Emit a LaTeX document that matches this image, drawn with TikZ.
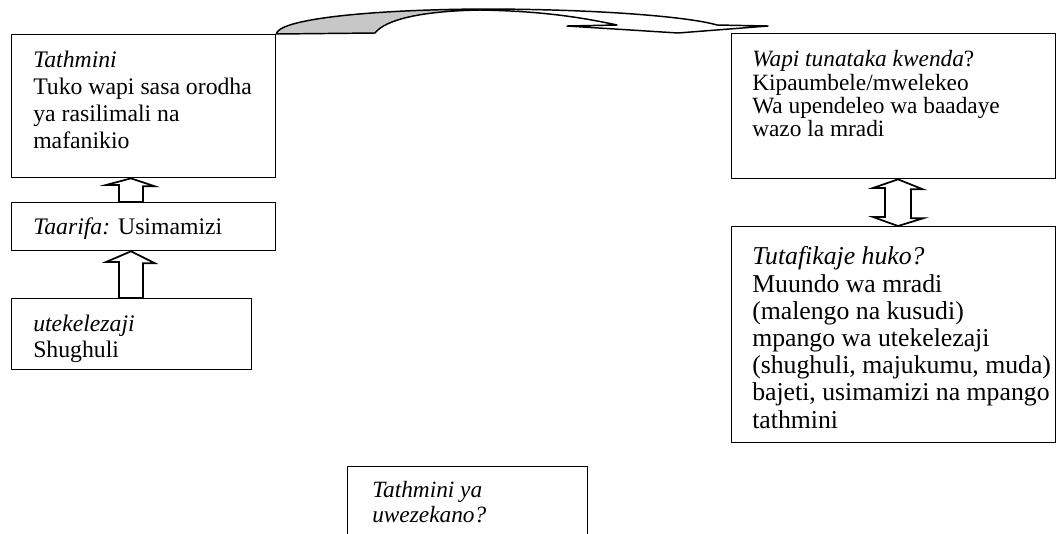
\documentclass[tikz,border=0pt]{standalone}
\usepackage{fontspec}
\setmainfont{Liberation Serif}
\usetikzlibrary{calc}
\begin{document}
\begin{tikzpicture}[x=0.75pt,y=-0.75pt,
    box/.style={draw, line width=1pt, inner sep=0pt, anchor=north west},
    boxsize/.style 2 args={minimum width=#1*0.75pt, minimum height=#2*0.75pt},
    txt/.style 2 args={anchor=north west, inner sep=0pt, align=left,
                font=\fontsize{#1pt}{#2pt}\selectfont},
    blk/.style={draw, line width=1.3pt, fill=white, line join=miter}]
    \useasboundingbox (0,0) rectangle (1057,533);
    \clip (0,0) rectangle (1057,533);

    % left column
    \node[box, boxsize={264}{143}] (tath) at (11,34) {};
    \node[box, boxsize={264}{48}] (taar) at (11,202) {};
    \node[box, boxsize={240}{71}] (utek) at (11,298) {};
    \node[txt={17.8}{20.25}] (tathtxt) at ($(tath.north west)+(22,17)$)
        {\textit{Tathmini}\\Tuko wapi sasa orodha\\ya rasilimali na\\mafanikio};
    \node[txt={17.8}{20.25}] (taartxt) at ($(taar.north west)+(22,15.5)$)
        {\textit{Taarifa:} Usimamizi};
    \node[txt={17.8}{19.5}] (utektxt) at ($(utek.north west)+(22,17)$)
        {\textit{utekelezaji}\\Shughuli};

    % right column
    \node[box, boxsize={324}{145}] (wapi) at (731,33) {};
    \node[box, boxsize={324}{216}] (tuta) at (731,226) {};
    \node[txt={17.5}{17.5}] (wapitxt) at ($(wapi.north west)+(21,17.5)$)
        {\textit{Wapi tunataka kwenda}?\\Kipaumbele/mwelekeo\\Wa upendeleo wa baadaye\\wazo la mradi};
    \node[txt={19.3}{20.4}] (tutatxt) at ($(tuta.north west)+(21,20.5)$)
        {\textit{Tutafikaje huko?}\\Muundo wa mradi\\(malengo na kusudi)\\mpango wa utekelezaji\\(shughuli, majukumu, muda)\\bajeti, usimamizi na mpango\\tathmini};

    % bottom
    \node[box, boxsize={240}{100}] (uwez) at (347,466) {};
    \node[txt={17.5}{18.5}] (uweztxt) at ($(uwez.north west)+(25,15.5)$)
        {\textit{Tathmini ya}\\\textit{uwezekano?}};

    % block arrows
    \draw[blk] (tath.south -| 131,0) -- ++(24,8) -- ++(-12,0) -- (taar.north -| 143,0)
        -- (taar.north -| 119,0) -- ++(0,-17) -- ++(-13,0) -- cycle;
    \draw[blk] (taar.south -| 131,0) -- ++(24,12) -- ++(-12,0) -- (utek.north -| 143,0)
        -- (utek.north -| 119,0) -- ++(0,-36) -- ++(-13,0) -- cycle;
    \draw[blk] (wapi.south -| 898,0) -- ++(25,10) -- ++(-12,0) -- ++(0,29) -- ++(12,0)
        -- (tuta.north -| 898,0) -- ++(-25,-9) -- ++(12,0) -- ++(0,-29) -- ++(-12,0) -- cycle;

    % curved arrow
    \fill[black!22] (tath.north east) .. controls (278,20) and (360,10) .. (480,9)
        -- (480,10) .. controls (420,11) and (385,20) .. (375,33) -- cycle;
    \draw[line width=1.1pt, line join=round] (tath.north east) .. controls (278,20) and (360,10) .. (480,9)
        .. controls (600,9) and (690,17) .. (717,25) -- (768,26) -- (678,33) -- (567,26) -- (617,25)
        .. controls (580,17) and (540,11) .. (480,10) .. controls (420,11) and (385,20) .. (375,33) -- cycle;
\end{tikzpicture}
\end{document}
